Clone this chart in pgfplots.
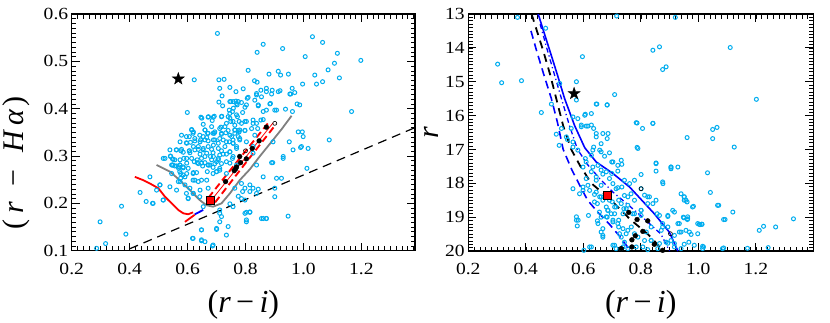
\documentclass[border=0pt]{standalone}
\usepackage{pgfplots}
\pgfplotsset{compat=1.18}
\usepackage{graphicx}
\usepackage{fontspec}
\setmainfont{Liberation Serif}
\pgfdeclareplotmark{fstar}{%
\pgfpathmoveto{\pgfpointpolar{90}{\pgfplotmarksize}}%
\pgfpathlineto{\pgfpointpolar{126}{0.4\pgfplotmarksize}}%
\pgfpathlineto{\pgfpointpolar{162}{\pgfplotmarksize}}%
\pgfpathlineto{\pgfpointpolar{198}{0.4\pgfplotmarksize}}%
\pgfpathlineto{\pgfpointpolar{234}{\pgfplotmarksize}}%
\pgfpathlineto{\pgfpointpolar{270}{0.4\pgfplotmarksize}}%
\pgfpathlineto{\pgfpointpolar{306}{\pgfplotmarksize}}%
\pgfpathlineto{\pgfpointpolar{342}{0.4\pgfplotmarksize}}%
\pgfpathlineto{\pgfpointpolar{18}{\pgfplotmarksize}}%
\pgfpathlineto{\pgfpointpolar{54}{0.4\pgfplotmarksize}}%
\pgfpathclose
\pgfusepathqfillstroke}
\pgfplotsset{mystyle/.style={scale only axis,
  axis line style={line width=1.3pt},
  tick align=inside, xtick pos=both, ytick pos=both,
  xticklabel pos=lower, yticklabel pos=left,
  major tick length=8pt, minor tick length=4.5pt,
  every major tick/.style={black, line width=0.9pt},
  every minor tick/.style={black, line width=0.6pt},
  tick label style={font=\fontsize{17}{17}\selectfont},
  /pgf/number format/assume math mode=true,
  xticklabel style={yshift=-9pt},
  cyanpt/.style={only marks, mark=o, mark size=2pt, color=cyan, mark options={line width=1pt}},
  bdot/.style={only marks, mark=*, mark size=2.4pt, black},
  bopen/.style={only marks, mark=o, mark size=2pt, black, mark options={line width=0.6pt}},
  bstar/.style={only marks, mark=fstar, mark size=6.3pt, black},
  rsq/.style={only marks, mark=square*, mark size=4pt, mark options={fill=red, draw=black, line width=0.5pt}},
}}
\begin{document}
\begin{tikzpicture}
\useasboundingbox (0,0) rectangle (830pt,322pt);
\begin{axis}[mystyle, at={(71.7pt,71.3pt)}, anchor=south west,
  width=343.3pt, height=236.7pt,
  xmin=0.2, xmax=1.385, ymin=0.1, ymax=0.6,
  xtick={0.2,0.4,0.6,0.8,1.0,1.2}, ytick={0.1,0.2,0.3,0.4,0.5,0.6},
  minor xtick={0.22,0.24,...,1.38}, minor ytick={0.11,0.12,...,0.595},
  xticklabel={\scalebox{1.15}[1]{\pgfmathprintnumber[fixed,fixed zerofill,precision=1]{\tick}}},
  yticklabel={\scalebox{1.15}[1]{\pgfmathprintnumber[fixed,fixed zerofill,precision=1]{\tick}}},
  xlabel={(\textit{r}\,−\,\textit{i})},
  xlabel style={font=\fontsize{32}{32}\selectfont, at={(axis description cs:0.5,-0.228)}, anchor=center},
  ylabel={(\hspace{6pt}\textit{r}\hspace{15pt}−\hspace{17pt}\textit{H}\hspace{4pt}\textit{α}\hspace{3pt})},
  ylabel style={font=\fontsize{30}{30}\selectfont, at={(axis description cs:-0.16,0.37)}, anchor=center},
]
\addplot[cyanpt] table {
0.703 0.559
1.031 0.552
1.066 0.540
0.861 0.536
0.840 0.519
0.928 0.527
1.117 0.517
1.006 0.510
1.198 0.502
1.107 0.496
1.085 0.482
0.809 0.481
0.913 0.479
0.881 0.473
0.921 0.471
0.948 0.473
1.039 0.471
1.124 0.465
0.623 0.461
0.708 0.461
0.726 0.462
0.831 0.459
0.840 0.456
1.066 0.457
1.045 0.452
0.711 0.443
0.746 0.445
0.792 0.442
0.853 0.439
0.872 0.443
0.892 0.439
0.919 0.438
0.961 0.443
0.956 0.431
0.997 0.452
0.838 0.429
0.832 0.418
0.806 0.422
0.746 0.415
0.769 0.411
0.775 0.415
0.721 0.406
0.758 0.401
0.798 0.403
0.844 0.406
0.886 0.411
0.978 0.410
0.962 0.394
0.901 0.397
0.938 0.399
1.166 0.394
0.649 0.380
0.671 0.382
0.689 0.382
0.717 0.383
0.746 0.380
0.772 0.383
0.746 0.390
0.786 0.369
0.803 0.373
0.826 0.376
0.853 0.376
0.715 0.361
0.734 0.369
0.757 0.373
0.614 0.356
0.620 0.351
0.660 0.355
0.669 0.348
0.692 0.348
0.717 0.348
0.740 0.354
0.763 0.355
0.778 0.351
0.798 0.354
0.821 0.358
0.842 0.358
0.996 0.351
0.999 0.341
1.089 0.334
0.579 0.344
0.606 0.341
0.625 0.337
0.643 0.330
0.666 0.339
0.689 0.334
0.711 0.337
0.734 0.330
0.757 0.334
0.780 0.337
0.803 0.330
0.826 0.320
0.574 0.330
0.597 0.327
0.620 0.320
0.637 0.320
0.654 0.316
0.671 0.320
0.689 0.323
0.706 0.316
0.729 0.320
0.746 0.309
0.769 0.316
0.895 0.330
0.964 0.313
0.990 0.318
1.016 0.316
0.539 0.313
0.561 0.313
0.579 0.314
0.606 0.311
0.643 0.304
0.666 0.306
0.689 0.299
0.711 0.302
0.734 0.304
0.757 0.299
0.826 0.306
0.516 0.295
0.541 0.299
0.550 0.293
0.574 0.292
0.597 0.295
0.623 0.288
0.648 0.295
0.683 0.292
0.706 0.292
0.746 0.285
0.769 0.281
0.930 0.299
0.894 0.286
0.838 0.281
0.549 0.281
0.574 0.281
0.597 0.285
0.648 0.285
0.671 0.281
0.569 0.274
0.576 0.263
0.545 0.263
0.597 0.263
0.620 0.265
0.631 0.265
0.668 0.267
0.700 0.267
0.734 0.263
1.012 0.274
0.861 0.256
0.907 0.253
0.924 0.253
0.574 0.246
0.625 0.249
0.666 0.249
0.470 0.256
0.505 0.239
0.493 0.228
0.591 0.239
0.608 0.232
0.620 0.221
0.643 0.228
0.815 0.239
0.826 0.232
0.844 0.230
0.901 0.232
0.901 0.214
0.790 0.225
0.798 0.207
0.436 0.223
0.516 0.207
0.602 0.211
0.457 0.204
0.479 0.200
0.372 0.194
0.803 0.181
0.815 0.181
0.711 0.179
0.746 0.199
0.757 0.193
0.803 0.165
0.861 0.168
0.872 0.168
0.947 0.173
0.298 0.161
0.648 0.144
0.700 0.145
0.734 0.133
0.387 0.135
0.317 0.115
0.617 0.126
0.648 0.121
0.686 0.110
0.286 0.105
0.719 0.427
0.708 0.414
0.749 0.415
0.767 0.416
0.599 0.392
0.744 0.397
0.755 0.394
0.771 0.408
0.646 0.382
0.672 0.383
0.692 0.384
0.718 0.384
0.740 0.383
0.749 0.373
0.685 0.375
0.654 0.367
0.711 0.358
0.729 0.362
0.763 0.365
0.775 0.354
0.614 0.355
0.619 0.348
0.660 0.355
0.683 0.362
0.694 0.351
0.642 0.344
0.654 0.341
0.671 0.348
0.688 0.348
0.717 0.346
0.732 0.349
0.746 0.344
0.763 0.348
0.775 0.341
0.596 0.341
0.596 0.328
0.610 0.329
0.625 0.332
0.645 0.334
0.660 0.334
0.671 0.332
0.694 0.334
0.706 0.327
0.723 0.334
0.744 0.330
0.757 0.327
0.562 0.313
0.577 0.311
0.585 0.308
0.606 0.311
0.608 0.307
0.625 0.313
0.637 0.314
0.654 0.313
0.683 0.314
0.688 0.307
0.717 0.311
0.723 0.304
0.746 0.309
0.522 0.295
0.541 0.300
0.548 0.294
0.556 0.292
0.587 0.295
0.614 0.295
0.633 0.292
0.660 0.299
0.679 0.299
0.706 0.295
0.700 0.288
0.717 0.284
0.734 0.288
0.755 0.295
0.545 0.281
0.556 0.279
0.571 0.277
0.585 0.275
0.633 0.286
0.652 0.279
0.677 0.281
0.688 0.276
0.711 0.274
0.767 0.436
0.809 0.424
0.786 0.413
0.757 0.415
0.803 0.408
0.838 0.432
0.855 0.425
0.872 0.436
0.890 0.431
0.913 0.436
0.953 0.431
0.970 0.434
0.884 0.410
0.844 0.408
0.861 0.394
0.907 0.397
0.769 0.387
0.790 0.392
0.798 0.373
0.778 0.373
0.826 0.369
0.838 0.369
0.763 0.355
0.780 0.355
0.798 0.354
0.752 0.341
0.780 0.334
0.769 0.320
0.757 0.327
0.832 0.344
0.987 0.408
0.982 0.351
0.993 0.320
0.951 0.330
0.930 0.295
0.890 0.286
0.872 0.397
0.861 0.377
0.548 0.281
0.562 0.279
0.573 0.281
0.585 0.277
0.573 0.267
0.585 0.260
0.576 0.253
0.568 0.246
0.591 0.256
0.602 0.274
0.619 0.263
0.637 0.284
0.660 0.286
0.671 0.281
0.694 0.284
0.688 0.263
0.700 0.267
0.711 0.270
0.619 0.249
0.637 0.246
0.648 0.249
0.671 0.232
0.504 0.239
0.539 0.235
0.562 0.228
0.596 0.221
0.619 0.221
0.602 0.210
0.642 0.214
0.516 0.207
0.481 0.200
0.654 0.193
0.798 0.232
0.815 0.225
0.838 0.221
0.786 0.210
0.775 0.215
0.798 0.179
0.815 0.182
0.803 0.161
0.855 0.168
0.872 0.168
0.711 0.186
0.717 0.172
0.711 0.161
0.700 0.147
0.740 0.151
0.648 0.144
0.619 0.126
0.648 0.123
0.660 0.119
0.688 0.112
0.786 0.242
0.763 0.232
};
\addplot[black, line width=1.2pt, dash pattern=on 9pt off 6pt] coordinates {(0.40,0.104) (1.385,0.360)};
\addplot[color={rgb,255:red,128;green,128;blue,128}, line width=1.8pt] coordinates {
(0.493,0.281) (0.539,0.267) (0.573,0.249) (0.608,0.228) (0.642,0.207) (0.665,0.196) (0.688,0.193) (0.717,0.200) (0.746,0.221) (0.780,0.249) (0.815,0.272) (0.850,0.300) (0.895,0.334) (0.925,0.357) (0.959,0.385)};
\addplot[red, line width=1.8pt] coordinates {
(0.418,0.256) (0.447,0.249) (0.470,0.242) (0.499,0.232) (0.522,0.214) (0.545,0.200) (0.568,0.186) (0.585,0.179) (0.602,0.177) (0.619,0.181)};
\addplot[red, line width=1.8pt] coordinates {(0.591,0.161) (0.625,0.176)};
\addplot[blue, line width=1.8pt] coordinates {(0.625,0.177) (0.654,0.186)};
\addplot[red, line width=1.9pt, dash pattern=on 7pt off 4pt] coordinates {(0.672,0.212) (0.785,0.299) (0.885,0.375)};
\addplot[red, line width=1.9pt, dash pattern=on 7pt off 4pt] coordinates {(0.695,0.202) (0.805,0.289) (0.905,0.367)};
\addplot[red, line width=0.8pt] coordinates {(0.680,0.205) (0.895,0.370)};
\addplot[bdot] coordinates {(0.731,0.246) (0.761,0.269) (0.766,0.273) (0.769,0.277) (0.780,0.299) (0.783,0.286) (0.803,0.294) (0.823,0.316) (0.847,0.332) (0.872,0.361)};
\addplot[bopen] coordinates {(0.800,0.311) (0.901,0.369)};
\addplot[bstar] coordinates {(0.568,0.463)};
\addplot[rsq] coordinates {(0.679,0.207)};
\end{axis}

\begin{axis}[mystyle, at={(468.3pt,71pt)}, anchor=south west,
  width=345pt, height=237pt,
  xmin=0.2, xmax=1.4, ymin=13, ymax=20, y dir=reverse,
  xtick={0.2,0.4,0.6,0.8,1.0,1.2}, ytick={13,14,15,16,17,18,19,20},
  minor xtick={0.22,0.24,...,1.39}, minor ytick={13.1,13.2,...,19.95},
  xticklabel={\scalebox{1.15}[1]{\pgfmathprintnumber[fixed,fixed zerofill,precision=1]{\tick}}},
  yticklabel={\scalebox{1.15}[1]{\pgfmathprintnumber{\tick}}},
  xlabel={(\textit{r}\,−\,\textit{i})},
  xlabel style={font=\fontsize{32}{32}\selectfont, at={(axis description cs:0.5,-0.228)}, anchor=center},
  ylabel={\textit{r}},
  ylabel style={font=\fontsize{30}{30}\selectfont, at={(axis description cs:-0.108,0.5)}, anchor=center},
]
\addplot[cyanpt] table {
0.371 13.10
0.716 13.06
0.920 13.10
0.469 13.42
0.302 14.48
0.316 15.03
0.385 14.97
0.597 14.26
0.576 15.00
0.518 15.05
0.576 15.54
0.709 15.38
0.645 15.66
0.683 15.69
0.454 15.91
0.489 15.66
0.842 14.07
0.865 13.97
0.876 14.64
0.888 14.56
1.111 13.99
1.202 15.52
0.564 16.04
0.581 16.09
0.607 15.96
0.593 16.33
0.616 16.31
0.636 16.38
0.645 16.63
0.668 16.53
0.683 16.68
0.524 16.38
0.506 16.55
0.545 16.71
0.564 16.93
0.581 17.02
0.516 16.88
0.636 16.93
0.662 17.07
0.628 17.17
0.607 17.27
0.599 17.52
0.651 17.47
0.674 17.20
0.699 17.37
0.734 17.44
0.720 17.64
0.699 17.71
0.668 17.73
0.645 17.91
0.662 18.06
0.616 18.06
0.599 18.21
0.639 18.55
0.618 18.95
0.649 18.60
0.656 18.85
0.685 18.80
0.701 18.55
0.709 18.90
0.723 19.09
0.738 18.90
0.755 18.65
0.778 18.50
0.801 18.80
0.824 18.40
0.842 18.60
0.857 18.90
0.876 19.19
0.894 18.98
0.917 18.85
0.929 19.19
0.948 19.00
0.963 19.05
0.940 19.44
0.969 19.44
1.003 19.21
1.012 19.21
0.980 18.70
0.951 18.40
0.951 18.50
0.961 18.55
0.940 18.31
0.929 17.52
0.905 17.57
0.905 17.52
0.853 17.42
0.853 17.64
0.877 18.01
0.787 16.22
0.806 16.38
0.842 16.23
0.787 16.94
0.801 17.74
0.961 16.65
1.032 17.69
1.042 18.27
1.050 16.41
1.065 16.35
1.050 16.68
1.125 16.93
1.067 18.65
1.120 18.85
1.088 19.07
1.212 19.39
1.227 19.27
1.269 19.29
1.331 19.05
1.171 19.92
1.243 19.90
1.084 19.93
1.015 19.93
0.940 19.93
0.986 19.83
1.018 19.88
0.998 19.49
0.836 19.69
0.726 19.49
0.732 19.59
0.743 19.74
0.709 19.83
0.732 19.93
0.755 19.93
0.714 19.93
0.703 19.83
0.662 19.00
0.649 19.11
0.668 19.34
0.668 19.59
0.576 19.09
0.579 19.26
0.622 19.88
0.602 19.98
0.824 19.96
0.859 19.93
0.813 19.69
0.778 19.49
0.755 19.39
0.767 19.29
0.723 19.29
0.703 19.14
0.683 19.00
0.697 18.90
0.680 18.70
0.662 18.40
0.645 18.26
0.734 18.11
0.714 18.16
0.743 18.36
0.755 18.40
0.766 18.31
0.723 18.50
0.741 18.75
0.714 18.70
0.778 18.90
0.801 18.95
0.836 19.29
0.871 19.39
0.894 19.29
0.917 19.54
0.905 19.69
0.894 19.77
0.917 19.88
0.983 18.68
1.071 18.65
0.950 19.02
0.962 19.07
1.093 19.07
0.998 19.19
1.006 19.22
1.013 19.21
0.934 19.44
0.975 19.51
0.967 19.74
0.951 19.80
1.015 19.86
1.088 19.91
0.647 15.66
0.683 15.68
0.605 15.99
0.628 15.94
0.593 16.28
0.610 16.31
0.628 16.28
0.558 16.38
0.645 16.53
0.686 16.53
0.662 16.83
0.541 16.63
0.564 16.78
0.633 17.02
0.657 17.02
0.691 17.10
0.732 17.32
0.703 17.37
0.720 17.47
0.784 16.21
0.842 16.23
0.790 16.97
0.853 17.40
0.905 17.52
0.876 17.96
0.801 18.16
0.951 18.40
0.957 18.50
0.963 18.99
0.894 18.95
0.911 18.80
0.610 17.37
0.633 17.52
0.662 17.61
0.680 17.66
0.628 17.66
0.645 17.81
0.610 17.86
0.691 17.86
0.703 18.01
0.720 18.13
0.743 17.91
0.761 18.01
0.778 17.91
0.813 18.35
0.830 18.40
0.824 18.60
0.853 18.50
0.865 18.95
0.876 19.29
0.801 18.80
0.772 18.90
0.749 18.75
0.732 18.60
0.709 18.70
0.686 18.80
0.691 18.50
0.668 18.50
0.657 18.40
0.639 18.33
0.622 18.21
0.599 18.11
0.587 18.31
0.564 18.16
0.576 18.99
0.582 19.09
0.651 19.19
0.662 19.44
0.668 19.54
0.680 18.99
0.703 19.09
0.720 19.19
0.738 19.34
0.749 19.49
0.790 19.59
0.819 19.44
0.836 19.69
0.865 19.78
0.888 19.74
0.917 19.78
0.807 19.88
0.784 19.88
0.738 19.88
0.628 19.88
0.957 19.39
0.934 19.19
};
\addplot[blue, line width=1.6pt, dash pattern=on 8pt off 5pt] coordinates {
(0.418,13.5) (0.437,14.07) (0.463,14.8) (0.489,15.5) (0.510,16.2) (0.530,17.0) (0.560,17.6) (0.590,18.1) (0.615,18.5) (0.650,18.85) (0.690,19.2) (0.725,19.55) (0.760,19.95)};
\addplot[black, line width=1.8pt, dash pattern=on 8pt off 6pt] coordinates {
(0.420,13.0) (0.460,14.07) (0.485,14.8) (0.506,15.5) (0.530,16.3) (0.558,17.0) (0.590,17.5) (0.628,18.0) (0.697,18.5) (0.761,19.05) (0.824,19.5) (0.880,20.0)};
\addplot[blue, line width=1.3pt, dash pattern=on 5pt off 3pt on 1.2pt off 3pt] coordinates {
(0.450,13.3) (0.475,14.07) (0.500,14.8) (0.524,15.5) (0.552,16.3) (0.580,17.0) (0.615,17.45) (0.657,17.86) (0.703,18.26) (0.737,18.5) (0.795,18.92) (0.870,19.5) (0.900,20.0)};
\addplot[blue, line width=1.6pt] coordinates {
(0.443,13.0) (0.483,14.07) (0.510,14.8) (0.535,15.5) (0.570,16.3) (0.605,16.95) (0.645,17.37) (0.703,17.71) (0.761,18.11) (0.847,18.90) (0.899,19.44) (0.929,20.0)};
\addplot[bdot] coordinates {(0.758,18.86) (0.787,19.07) (0.824,19.11) (0.807,19.42) (0.781,19.55) (0.769,19.67) (0.847,19.80) (0.732,19.93) (0.876,19.98) (0.769,19.88)};
\addplot[bopen] coordinates {(0.801,18.16) (0.903,19.49)};
\addplot[bstar] coordinates {(0.568,15.35)};
\addplot[rsq] coordinates {(0.682,18.36)};
\end{axis}
\end{tikzpicture}
\end{document}
